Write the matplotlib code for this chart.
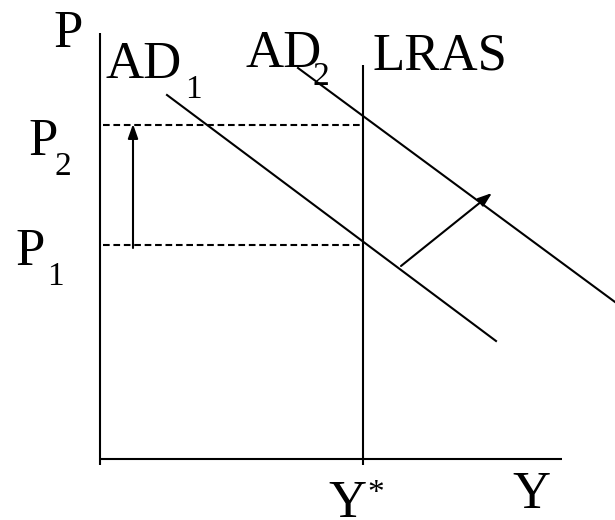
import matplotlib
matplotlib.use("Agg")
import matplotlib.pyplot as plt
from matplotlib.patches import FancyArrowPatch

# model coordinates (origin at the axes corner)
y_star = 263
p1 = 214
p2 = 334

ad1_x = [67, 396]
ad1_y = [364, 118]
ad2_x = [198, 515]
ad2_y = [391, 157]

axis_top = 426
axis_right = 462

shift_from = (301, 193)
shift_to = (392, 266)

fig = plt.figure(figsize=(6.15, 5.2), dpi=100)
ax = fig.add_axes([0, 0, 1, 1])
ax.set_xlim(-100, 515)
ax.set_ylim(-61, 459)
ax.axis("off")

lw = 1.5
k = "black"

# axes
ax.plot([0, 0], [-6, axis_top], c=k, lw=lw, solid_capstyle="butt")
ax.plot([0, axis_right], [0, 0], c=k, lw=lw, solid_capstyle="butt")

# LRAS
ax.plot([y_star, y_star], [-6, 394], c=k, lw=lw, solid_capstyle="butt")

# AD curves
ax.plot(ad1_x, ad1_y, c=k, lw=lw)
ax.plot(ad2_x, ad2_y, c=k, lw=lw)

# price levels
for p in (p1, p2):
    ax.plot([3, y_star], [p, p], c=k, lw=lw, dashes=(3.2, 1.8),
            dash_capstyle="butt")

# arrows
style = "-|>,head_length=8.5,head_width=3"
ax.add_patch(FancyArrowPatch((33, p1 - 3), (33, p2 + 1), arrowstyle=style,
                             mutation_scale=1, lw=lw, color=k,
                             shrinkA=0, shrinkB=0))
ax.add_patch(FancyArrowPatch(shift_from, shift_to, arrowstyle=style,
                             mutation_scale=1, lw=lw, color=k,
                             shrinkA=0, shrinkB=0))

# labels
font = "Liberation Serif"
big = 38
small = 24

def label(x, y, s, size=big, va="baseline"):
    ax.text(x, y, s, fontsize=size, family=font, ha="left", va=va, color=k)

label(-47, 412, "P")
label(6, 381, "AD")
label(85, 361, "1", small)
label(145, 392, "AD")
label(213, 374, "2", small)
label(273, 389, "LRAS")
label(-72, 304, "P")
label(-45, 284, "2", small)
label(-85, 194, "P")
label(-53, 174, "1", small)
label(228, -58, "Y")
label(267, -19, "*", small, va="top")
label(412, -49, "Y")

fig.savefig("out.png", dpi=100)
